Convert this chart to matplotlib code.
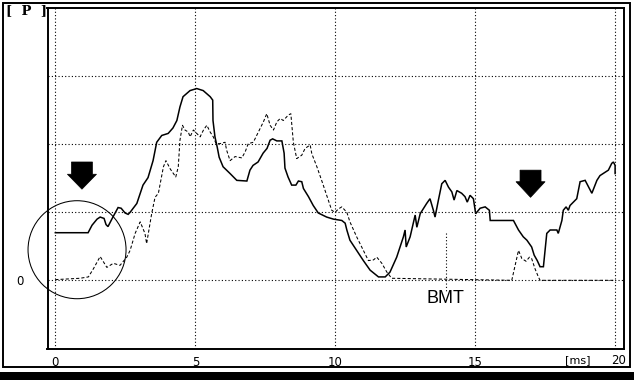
import matplotlib
matplotlib.use("Agg")
import matplotlib.pyplot as plt
from matplotlib.patches import Polygon, Ellipse, Rectangle

# ---- data (time in ms, amplitude in grid units) ----
solid_t = [0.00, 1.17, 1.31, 1.49, 1.60, 1.74, 1.81, 1.88, 2.03, 2.24, 2.35, 2.49, 2.60,
           2.67, 2.91, 3.13, 3.31, 3.49, 3.62, 3.80, 4.03, 4.20, 4.34, 4.45, 4.56, 4.81,
           5.05, 5.28, 5.53, 5.62, 5.63, 5.70, 5.78, 5.85, 5.99, 6.24, 6.48, 6.84, 6.95,
           7.06, 7.24, 7.42, 7.56, 7.67, 7.76, 7.91, 8.09, 8.17, 8.20, 8.31, 8.44, 8.59,
           8.68, 8.80, 8.86, 9.04, 9.21, 9.39, 9.69, 9.93, 10.23, 10.35, 10.41, 10.52,
           10.76, 11.00, 11.24, 11.54, 11.78, 11.95, 12.19, 12.43, 12.49, 12.53, 12.67,
           12.85, 12.91, 13.03, 13.26, 13.38, 13.50, 13.56, 13.68, 13.80, 13.92, 14.04,
           14.16, 14.24, 14.34, 14.51, 14.63, 14.71, 14.81, 14.93, 15.01, 15.17, 15.35,
           15.50, 15.53, 16.36, 16.54, 16.71, 16.84, 17.01, 17.10, 17.21, 17.31, 17.43,
           17.55, 17.67, 17.91, 17.96, 18.09, 18.14, 18.24, 18.32, 18.38, 18.62, 18.74,
           18.92, 19.16, 19.34, 19.45, 19.75, 19.87, 19.93, 19.99, 19.99]
solid_p = [0.70, 0.70, 0.81, 0.90, 0.93, 0.91, 0.82, 0.79, 0.91, 1.07, 1.06, 0.99, 0.97,
           1.00, 1.13, 1.40, 1.51, 1.76, 2.03, 2.13, 2.16, 2.24, 2.35, 2.55, 2.70, 2.79,
           2.82, 2.79, 2.70, 2.65, 2.35, 2.11, 1.96, 1.81, 1.67, 1.57, 1.47, 1.46, 1.62,
           1.69, 1.74, 1.87, 1.94, 2.06, 2.08, 2.05, 2.05, 1.87, 1.65, 1.52, 1.40, 1.40,
           1.46, 1.45, 1.35, 1.23, 1.10, 0.99, 0.93, 0.90, 0.88, 0.84, 0.74, 0.59,
           0.44, 0.29, 0.15, 0.05, 0.05, 0.12, 0.34, 0.64, 0.74, 0.49, 0.64,
           0.96, 0.78, 0.98, 1.13, 1.20, 1.03, 0.93, 1.18, 1.42, 1.47, 1.37,
           1.30, 1.18, 1.32, 1.28, 1.23, 1.15, 1.25, 1.20, 0.98, 1.06, 1.08,
           1.03, 0.88, 0.88, 0.74, 0.64, 0.59, 0.49, 0.37, 0.29, 0.20, 0.20,
           0.69, 0.74, 0.74, 0.69, 0.88, 1.03, 1.08, 1.03, 1.10, 1.20, 1.45,
           1.47, 1.28, 1.47, 1.54, 1.62, 1.72, 1.74, 1.69, 1.57]

dashed_t = [0.00, 0.88, 1.18, 1.36, 1.60, 1.84, 2.07, 2.31, 2.55, 2.67, 2.85, 3.03, 3.20,
            3.26, 3.44, 3.56, 3.68, 3.86, 3.95, 4.10, 4.30, 4.39, 4.45, 4.54, 4.63, 4.75,
            4.81, 4.93, 5.05, 5.17, 5.29, 5.41, 5.53, 5.64, 5.74, 5.88, 6.06, 6.12, 6.24,
            6.42, 6.66, 6.78, 6.89, 7.07, 7.25, 7.43, 7.55, 7.67, 7.79, 7.91, 8.03, 8.14,
            8.32, 8.41, 8.50, 8.62, 8.80, 8.92, 9.10, 9.16, 9.34, 9.51, 9.69, 9.87, 9.99,
            10.11, 10.23, 10.41, 10.52, 10.76, 11.00, 11.18, 11.36, 11.48, 11.66, 11.84,
            12.01, 16.30, 16.54, 16.66, 16.81, 16.93, 17.01, 17.13, 17.25, 17.31, 20.00]
dashed_p = [0.01, 0.03, 0.05, 0.17, 0.35, 0.19, 0.25, 0.22, 0.34, 0.44, 0.69, 0.86, 0.69,
            0.54, 0.98, 1.22, 1.28, 1.67, 1.76, 1.64, 1.52, 1.67, 2.06, 2.28, 2.21, 2.18,
            2.11, 2.21, 2.16, 2.11, 2.21, 2.28, 2.18, 2.11, 2.01, 2.01, 2.03, 1.91, 1.76,
            1.82, 1.80, 1.89, 2.01, 2.03, 2.18, 2.33, 2.45, 2.28, 2.21, 2.33, 2.38, 2.35,
            2.43, 2.45, 2.03, 1.79, 1.84, 1.94, 1.99, 1.86, 1.67, 1.47, 1.25, 1.03, 1.00,
            1.05, 1.08, 1.00, 0.86, 0.64, 0.44, 0.29, 0.30, 0.34, 0.25, 0.12,
            0.03, 0.00, 0.44, 0.32, 0.28, 0.34, 0.32, 0.17, 0.05, 0.00, 0.00]

x_ticks = [0, 5, 10, 15, 20]
x_tick_labels = ["0", "5", "10", "15", ""]
y_grid = [0, 1, 2, 3]
y_tick_labels = ["0", "", "", ""]

# ---- figure ----
W, H, DPI = 640, 380, 100
fig = plt.figure(figsize=(W / DPI, H / DPI), dpi=DPI)
fig.patch.set_facecolor("white")

# overlay in pixel coordinates for frame / annotations outside the plot box
ov = fig.add_axes([0, 0, 1, 1], zorder=0)
ov.set_xlim(0, W)
ov.set_ylim(H, 0)
ov.axis("off")
ov.add_patch(Rectangle((2.5, 2.5), 627, 364.5, fill=False, lw=1.4, ec="black"))
ov.add_patch(Rectangle((0, 372), 634, 8, fc="black", ec="none"))
ov.text(26, 11, "[  P  ]", fontsize=9.5, fontweight="bold", family="DejaVu Serif",
        ha="center", va="center")
ov.text(578, 360, "[ms]", fontsize=8, ha="center", va="center", family="DejaVu Sans")
ov.text(619, 360, "20", fontsize=8.5, ha="center", va="center", family="DejaVu Sans")

left, right, top, bottom = 47.5, 623.5, 8.3, 349
ax = fig.add_axes([left / W, 1 - bottom / H, (right - left) / W, (bottom - top) / H], zorder=1)
ax.patch.set_alpha(0)
ax.set_xlim(-0.28, 20.29)
ax.set_ylim(-1.01, 4.0)

for s in ax.spines.values():
    s.set_linewidth(1.4)

ax.set_xticks(x_ticks, x_tick_labels)
ax.set_yticks(y_grid, y_tick_labels)
ax.tick_params(length=0, labelsize=8.5, pad=5)
ax.tick_params(axis="y", pad=17)
ax.grid(True, color="black", lw=0.8, linestyle=(0, (1, 2)))
ax.set_axisbelow(True)

ax.plot(solid_t, solid_p, color="black", lw=1.1, solid_joinstyle="miter")
ax.plot(dashed_t, dashed_p, color="black", lw=0.75, linestyle=(0, (3, 2)))

# BMT marker
ax.plot([13.94, 13.94], [0.69, -0.15], color="black", lw=0.8, linestyle=(0, (1, 2)))
ax.text(13.94, -0.27, "BMT", fontsize=13, family="Liberation Sans", ha="center", va="center")

# arrows
def down_arrow(xc, ytop, yhead, ytip):
    hw, hhw = 0.375, 0.52
    pts = [(xc - hw, ytop), (xc + hw, ytop), (xc + hw, yhead), (xc + hhw, yhead),
           (xc, ytip), (xc - hhw, yhead), (xc - hw, yhead)]
    ax.add_patch(Polygon(pts, closed=True, fc="black", ec="black", lw=0.5))

down_arrow(0.95, 1.74, 1.56, 1.34)
down_arrow(16.97, 1.62, 1.45, 1.22)

# circle around onset
ax.add_patch(Ellipse((0.775, 0.45), 98 / 28.0, 98 / 68.0, fill=False, ec="black",
                     lw=0.75, clip_on=False))

fig.savefig("out.png", dpi=DPI, facecolor="white")
